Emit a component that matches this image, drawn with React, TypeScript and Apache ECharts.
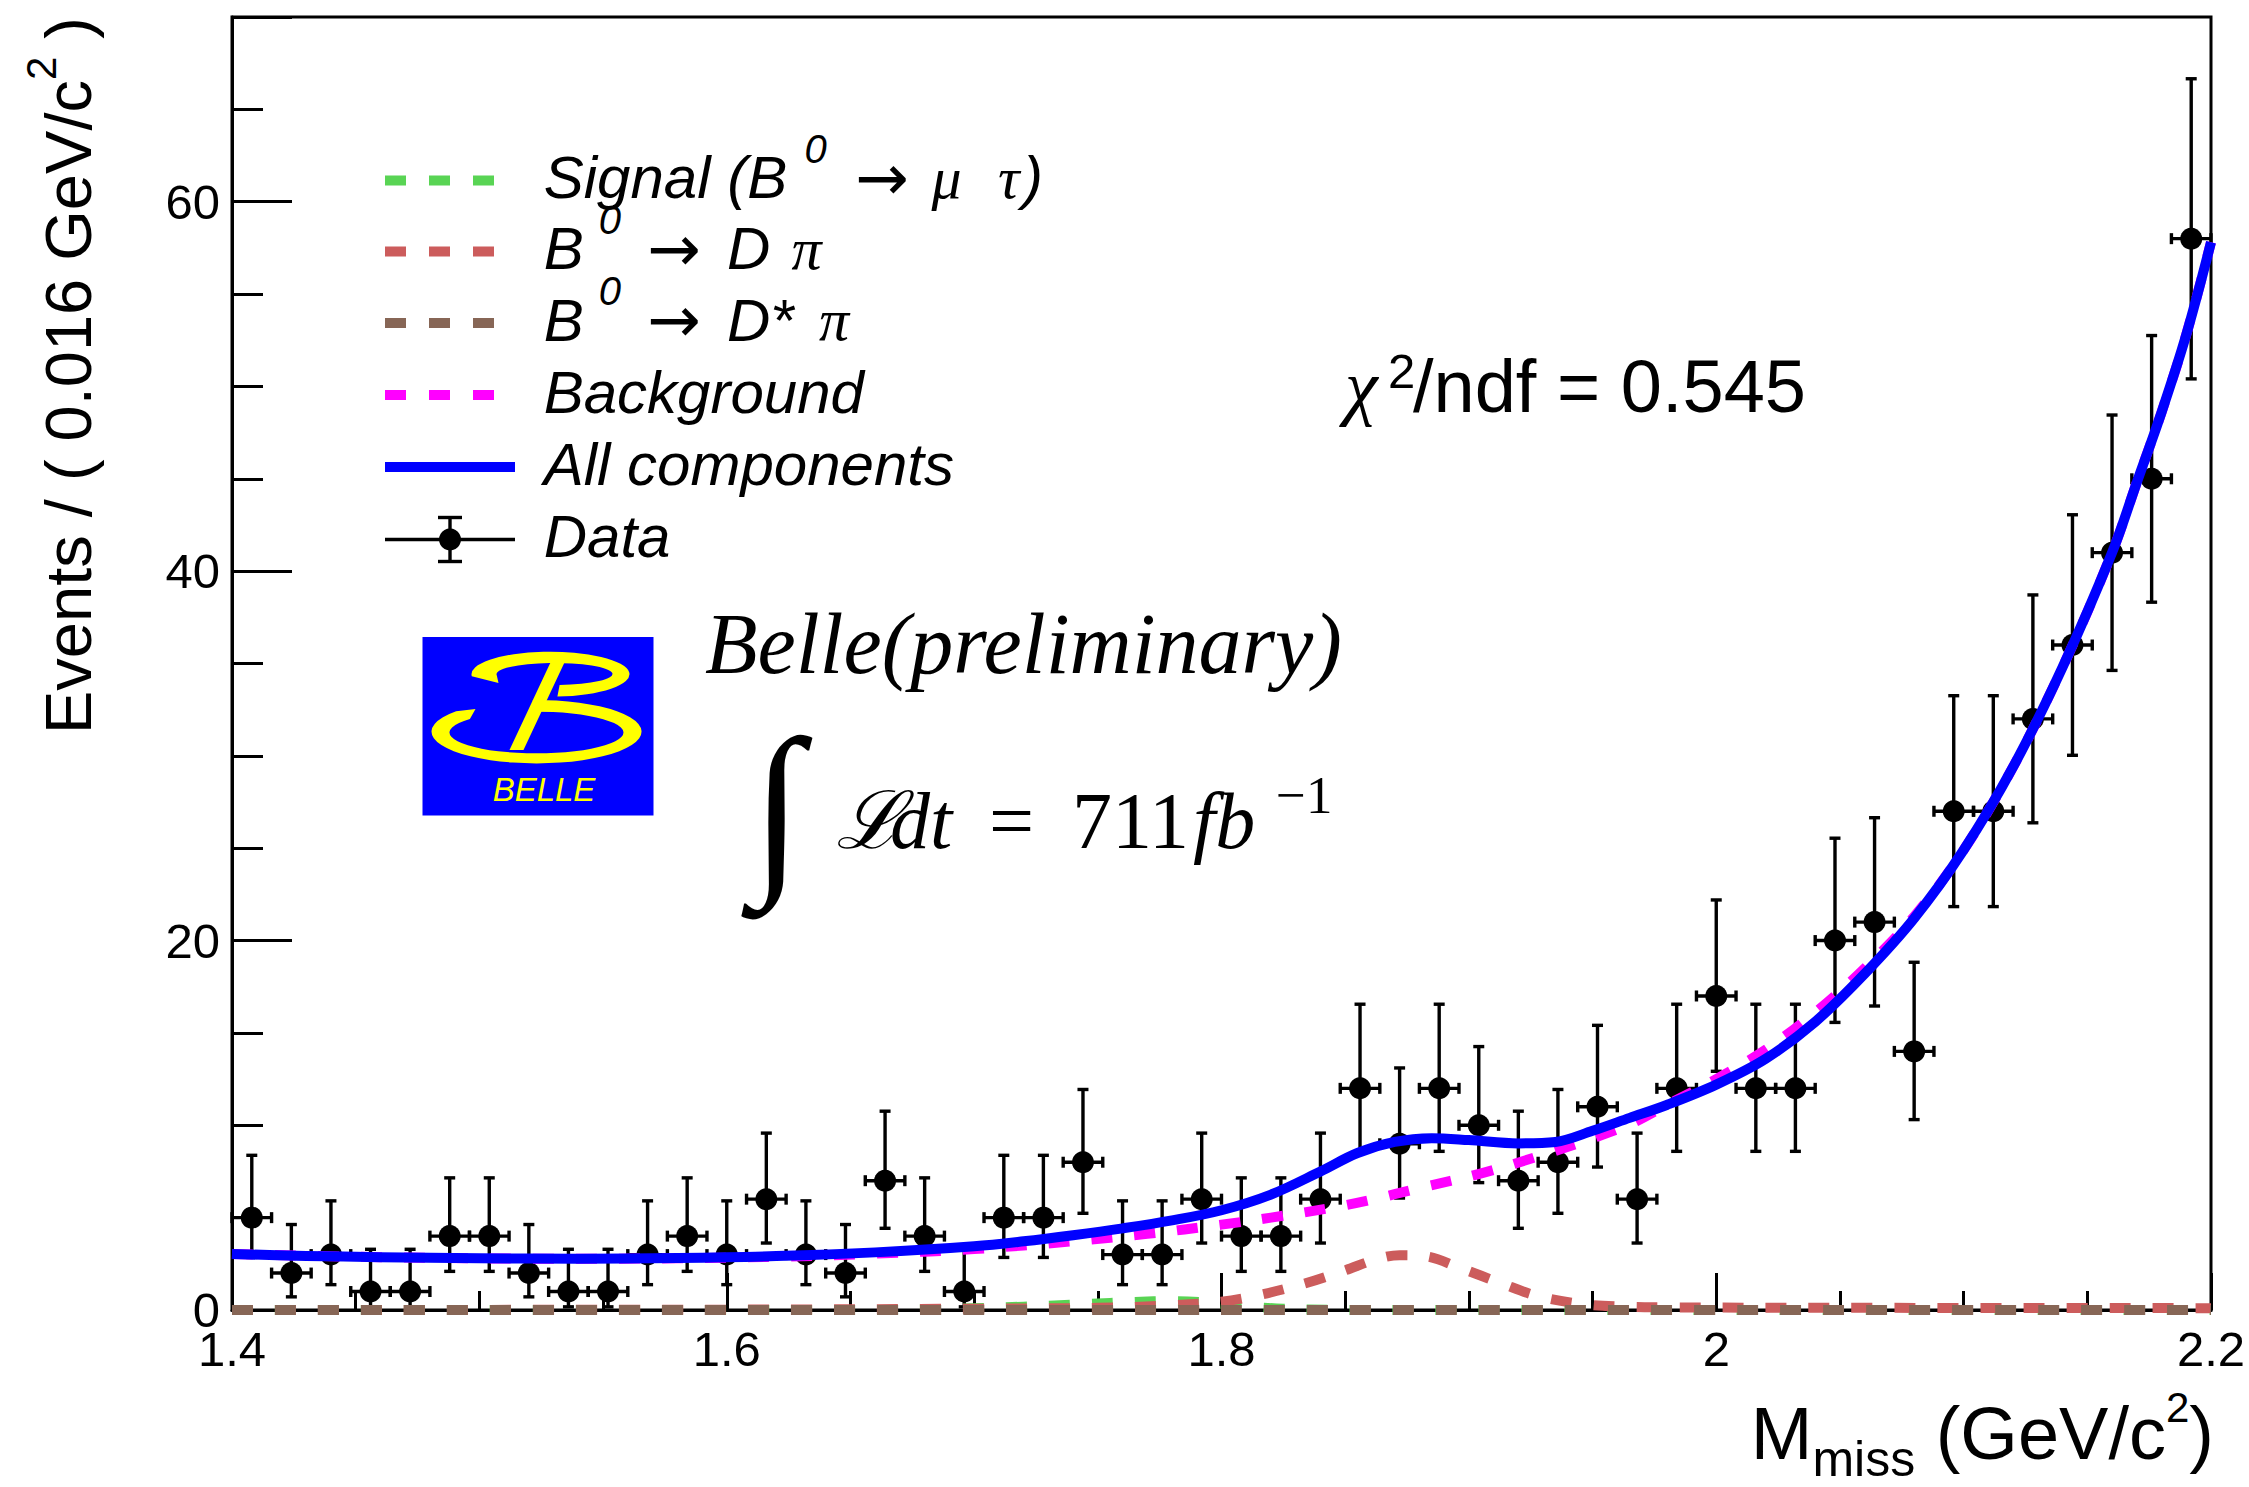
import React, { useEffect, useRef } from "react";
import * as echarts from "echarts";

// ---------------- data ----------------
const binCenters = [
  1.408, 1.424, 1.44, 1.456, 1.472, 1.488, 1.504, 1.52, 1.536, 1.552,
  1.568, 1.584, 1.6, 1.616, 1.632, 1.648, 1.664, 1.68, 1.696, 1.712,
  1.728, 1.744, 1.76, 1.776, 1.792, 1.808, 1.824, 1.84, 1.856, 1.872,
  1.888, 1.904, 1.92, 1.936, 1.952, 1.968, 1.984, 2.0, 2.016, 2.032,
  2.048, 2.064, 2.08, 2.096, 2.112, 2.128, 2.144, 2.16, 2.176, 2.192,
];
const counts = [
  5, 2, 3, 1, 1, 4, 4, 2, 1, 1,
  3, 4, 3, 6, 3, 2, 7, 4, 1, 5,
  5, 8, 3, 3, 6, 4, 4, 6, 12, 9,
  12, 10, 7, 8, 11, 6, 12, 17, 12, 12,
  20, 21, 14, 27, 27, 32, 36, 41, 45, 58,
];
const binHalfWidth = 0.008;

// All components (blue)
const totalX = [1.4, 1.43, 1.46, 1.5, 1.54, 1.58, 1.62, 1.66, 1.7, 1.72, 1.74, 1.76, 1.78, 1.8, 1.82, 1.84, 1.855, 1.87, 1.885, 1.9, 1.92, 1.935, 1.95, 1.965, 1.98, 2.0, 2.02, 2.04, 2.06, 2.08, 2.1, 2.12, 2.14, 2.16, 2.17, 2.18, 2.19, 2.2];
const totalY = [3.03, 2.93, 2.86, 2.8, 2.78, 2.82, 2.92, 3.12, 3.45, 3.72, 4.05, 4.42, 4.85, 5.4, 6.25, 7.5, 8.5, 9.1, 9.3, 9.2, 9.02, 9.1, 9.7, 10.4, 11.1, 12.2, 13.6, 15.6, 18.2, 21.2, 24.9, 29.4, 34.8, 41.0, 44.8, 48.6, 52.8, 57.8];

// Background (magenta)
const bkgX = [1.4, 1.46, 1.54, 1.62, 1.66, 1.7, 1.74, 1.77, 1.8, 1.82, 1.845, 1.86, 1.88, 1.905, 1.93, 1.95, 1.965, 1.98, 2.0, 2.02, 2.04, 2.06, 2.08, 2.1, 2.12, 2.14, 2.16, 2.17, 2.18, 2.19, 2.2];
const bkgY = [3.03, 2.86, 2.77, 2.88, 3.05, 3.3, 3.72, 4.12, 4.62, 5.0, 5.55, 5.95, 6.6, 7.4, 8.4, 9.3, 10.05, 11.1, 12.5, 14.1, 16.1, 18.5, 21.3, 24.9, 29.4, 34.8, 41.0, 44.8, 48.6, 52.8, 57.8];

// B0 -> D pi (red)
const dpiX = [1.4, 1.6, 1.7, 1.75, 1.78, 1.8, 1.815, 1.834, 1.85, 1.862, 1.872, 1.882, 1.897, 1.913, 1.928, 1.946, 1.962, 1.98, 2.05, 2.2];
const dpiY = [0.0, 0.02, 0.07, 0.12, 0.25, 0.45, 0.8, 1.45, 2.15, 2.72, 2.97, 2.92, 2.25, 1.45, 0.75, 0.32, 0.18, 0.14, 0.12, 0.1];

// B0 -> D* pi (brown)
const dstarX = [1.4, 1.8, 2.2];
const dstarY = [0.0, 0.0, 0.0];

// Signal (green)
const sigX = [1.4, 1.66, 1.69, 1.72, 1.745, 1.765, 1.78, 1.795, 1.81, 1.825, 1.845, 1.87, 2.2];
const sigY = [0.0, 0.0, 0.06, 0.18, 0.32, 0.44, 0.48, 0.4, 0.2, 0.07, 0.01, 0.0, 0.0];

const xTickLabels = ["1.4", "1.6", "1.8", "2", "2.2"];
const yTickLabels = [0, 20, 40, 60];

// ---------------- helpers ----------------
const SANS = '"Liberation Sans", Arial, Helvetica, sans-serif';
const SERIF = '"Liberation Serif", "DejaVu Serif", "Times New Roman", serif';
const ARROW = '"DejaVu Sans", sans-serif';

// Poisson (Garwood, 68.3%) interval of a count, via Wilson-Hilferty
function poissonInterval(n: number): [number, number] {
  if (n <= 0) return [0, 1.841];
  const lo = n * Math.pow(1 - 1 / (9 * n) - 1 / (3 * Math.sqrt(n)), 3);
  const m = n + 1;
  const hi = m * Math.pow(1 - 1 / (9 * m) + 1 / (3 * Math.sqrt(m)), 3);
  return [lo, hi];
}

let measureCtx: CanvasRenderingContext2D | null = null;
function measure(text: string, size: number, family: string, italic = false) {
  if (!measureCtx) measureCtx = document.createElement("canvas").getContext("2d");
  const c = measureCtx as CanvasRenderingContext2D;
  c.font = `${italic ? "italic " : ""}${size}px ${family}`;
  return c.measureText(text).width;
}

function txt(
  text: string,
  x: number,
  y: number,
  size: number,
  opt: { family?: string; italic?: boolean; align?: string; rotation?: number; fill?: string } = {}
) {
  return {
    type: "text",
    x,
    y,
    rotation: opt.rotation || 0,
    silent: true,
    z: 10,
    style: {
      text,
      fontSize: size,
      fontFamily: opt.family || SANS,
      fontStyle: opt.italic ? "italic" : "normal",
      fill: opt.fill || "#000",
      align: opt.align || "left",
      verticalAlign: "middle",
    },
  };
}

const LOGO_LOWER = "M110.3 63.0 A105 31.7 0 1 1 33.6 74.3 L53 72 L47.4 82.1 A87 20.8 0 1 0 111.0 74.7 Z";
const LOGO_UPPER = "M49.3 39.2 A79 22.5 0 1 1 134.9 59.6 L137.1 48.0 A58 11 0 1 0 74.2 38.0 L76 46 Z";

function buildGraphics() {
  const els: any[] = [];

  // ---- legend ----
  const rows = [180.5, 251.5, 323, 395, 467, 539.5];
  const lx1 = 385, lx2 = 494;
  const dashCols = ["#59d454", "#cc5c5c", "#876656", "#ff00ff"];
  dashCols.forEach((c, i) => {
    els.push({
      type: "line", silent: true, z: 10,
      shape: { x1: lx1, y1: rows[i], x2: lx2, y2: rows[i] },
      style: { stroke: c, lineWidth: 10, lineDash: [21, 23], lineCap: "butt" },
    });
  });
  els.push({
    type: "line", silent: true, z: 10,
    shape: { x1: 385, y1: rows[4], x2: 515, y2: rows[4] },
    style: { stroke: "#0000ff", lineWidth: 10 },
  });
  const dy = rows[5];
  const dataStyle = { stroke: "#000", lineWidth: 3.4 };
  els.push({ type: "line", silent: true, z: 10, shape: { x1: 385, y1: dy, x2: 515, y2: dy }, style: dataStyle });
  els.push({ type: "line", silent: true, z: 10, shape: { x1: 450, y1: dy - 22, x2: 450, y2: dy + 22 }, style: dataStyle });
  els.push({ type: "line", silent: true, z: 10, shape: { x1: 438, y1: dy - 22, x2: 462, y2: dy - 22 }, style: dataStyle });
  els.push({ type: "line", silent: true, z: 10, shape: { x1: 438, y1: dy + 22, x2: 462, y2: dy + 22 }, style: dataStyle });
  els.push({ type: "circle", silent: true, z: 10, shape: { cx: 450, cy: dy, r: 11 }, style: { fill: "#000" } });

  const LF = 60;
  const ty = (r: number) => r - 3;
  const supY = (r: number) => r - 32;
  const AF = 64;
  // row 1
  els.push(txt("Signal (B", 543.7, ty(rows[0]), LF, { italic: true }));
  els.push(txt("0", 804.6, supY(rows[0]), 40, { italic: true }));
  els.push(txt("\u2192", 855, ty(rows[0]), AF, { family: ARROW }));
  els.push(txt("\u03bc", 931.6, ty(rows[0]), LF, { italic: true, family: SERIF }));
  els.push(txt("\u03c4", 998, ty(rows[0]), LF, { italic: true, family: SERIF }));
  els.push(txt(")", 1023, ty(rows[0]), LF, { italic: true }));
  // row 2
  els.push(txt("B", 543.7, ty(rows[1]), LF, { italic: true }));
  els.push(txt("0", 598.7, supY(rows[1]), 40, { italic: true }));
  els.push(txt("\u2192", 647, ty(rows[1]), AF, { family: ARROW }));
  els.push(txt("D", 727, ty(rows[1]), LF, { italic: true }));
  els.push(txt("\u03c0", 791.6, ty(rows[1]), LF, { italic: true, family: SERIF }));
  // row 3
  els.push(txt("B", 543.7, ty(rows[2]), LF, { italic: true }));
  els.push(txt("0", 598.7, supY(rows[2]), 40, { italic: true }));
  els.push(txt("\u2192", 647, ty(rows[2]), AF, { family: ARROW }));
  els.push(txt("D*", 727, ty(rows[2]), LF, { italic: true }));
  els.push(txt("\u03c0", 819, ty(rows[2]), LF, { italic: true, family: SERIF }));
  // rows 4-6
  els.push(txt("Background", 543.7, ty(rows[3]), LF, { italic: true }));
  els.push(txt("All components", 543.7, ty(rows[4]), LF, { italic: true }));
  els.push(txt("Data", 543.7, ty(rows[5]), LF, { italic: true }));

  // ---- chi2 ----
  els.push(txt("\u03c7", 1345, 386, 74, { italic: true, family: SERIF }));
  els.push(txt("2", 1388, 371, 49));
  els.push(txt("/ndf = 0.545", 1413, 386, 74));

  // ---- Belle logo ----
  const LX = 422.5, LY = 637;
  els.push({ type: "rect", silent: true, z: 10, shape: { x: LX, y: LY, width: 231, height: 178.5 }, style: { fill: "#0000ff" } });
  els.push({ type: "belleLower", silent: true, z: 11, x: LX, y: LY, style: { fill: "#ffff00" } });
  els.push({ type: "belleUpper", silent: true, z: 11, x: LX, y: LY, style: { fill: "#ffff00" } });
  els.push({
    type: "polygon", silent: true, z: 11,
    shape: { points: [[LX + 131, LY + 19], [LX + 145, LY + 19], [LX + 101, LY + 113], [LX + 87, LY + 113]] },
    style: { fill: "#ffff00" },
  });
  els.push(txt("BELLE", 544, 789, 33, { italic: true, align: "center", fill: "#ffff00" }));

  // ---- Belle (preliminary) and luminosity ----
  els.push(txt("Belle(preliminary)", 705, 644, 86, { italic: true, family: SERIF }));
  els.push(txt("\u222b", 777, 805, 188, { family: SERIF, align: "center" }));
  els.push(txt("\u2112", 836, 821, 80, { italic: true, family: SERIF }));
  els.push(txt("dt", 890, 821, 80, { italic: true, family: SERIF }));
  els.push(txt("=", 989, 821, 80, { family: SERIF }));
  els.push(txt("711", 1072, 821, 80, { family: SERIF }));
  els.push(txt("fb", 1193, 821, 80, { italic: true, family: SERIF }));
  els.push(txt("\u22121", 1276, 795, 53, { family: SERIF }));

  // ---- x axis title (right aligned at 2214) ----
  const xt = [
    { s: "M", size: 74, y: 1433.4 },
    { s: "miss", size: 50, y: 1459 },
    { s: " (GeV/c", size: 74, y: 1433.4 },
    { s: "2", size: 42, y: 1407.6 },
    { s: ")", size: 74, y: 1433.4 },
  ];
  const widths = xt.map((p) => measure(p.s, p.size, SANS));
  let cx = 2214 - widths.reduce((a, b) => a + b, 0);
  xt.forEach((p, i) => {
    els.push(txt(p.s, cx, p.y, p.size));
    cx += widths[i];
  });

  // ---- y axis title (rotated, from bottom at 734 upward) ----
  const yt = [
    { s: "Events / ( 0.016 GeV/c", size: 65, x: 68 },
    { s: "2", size: 42, x: 41 },
    { s: " )", size: 65, x: 68 },
  ];
  let cy = 734;
  yt.forEach((p) => {
    els.push(txt(p.s, p.x, cy, p.size, { rotation: Math.PI / 2 }));
    cy -= measure(p.s, p.size, SANS);
  });

  return els;
}

export default function App() {
  const ref = useRef<HTMLDivElement>(null);

  useEffect(() => {
    if (!ref.current) return;
    echarts.graphic.registerShape("belleLower", echarts.graphic.extendPath(LOGO_LOWER, {}));
    echarts.graphic.registerShape("belleUpper", echarts.graphic.extendPath(LOGO_UPPER, {}));

    const chart = echarts.init(ref.current, undefined, { renderer: "svg", width: 2249, height: 1487 });

    const errData = binCenters.map((x, i) => {
      const [lo, hi] = poissonInterval(counts[i]);
      return [x, counts[i], lo, hi];
    });

    const curve = (name: string, xs: number[], ys: number[], color: string, dashed: boolean) => ({
      type: "line",
      name,
      data: xs.map((x, i) => [x, ys[i]]),
      smooth: 0.35,
      symbol: "none",
      showSymbol: false,
      silent: true,
      z: 3,
      lineStyle: { color, width: 10, type: dashed ? [21, 22] : "solid", cap: "butt", join: "round", opacity: 1 },
      itemStyle: { color },
    });

    const axisLineStyle = { color: "#000", width: 3 };

    const option: any = {
      animation: false,
      backgroundColor: "#fff",
      textStyle: { fontFamily: SANS },
      grid: {
        left: 232, top: 17, width: 1979, height: 1293,
        show: true, borderColor: "#000", borderWidth: 3, backgroundColor: "transparent",
      },
      xAxis: {
        type: "value", min: 1.4, max: 2.2, interval: 0.2,
        axisLine: { show: true, onZero: false, lineStyle: axisLineStyle },
        axisTick: { show: true, inside: true, length: 37, lineStyle: axisLineStyle },
        minorTick: { show: true, splitNumber: 4, length: 19, lineStyle: axisLineStyle },
        splitLine: { show: false },
        axisLabel: {
          fontSize: 49, color: "#000", fontFamily: SANS, margin: 14,
          formatter: (v: number) => {
            const s = String(Math.round(v * 10) / 10);
            return xTickLabels.indexOf(s) >= 0 ? s : "";
          },
        },
      },
      yAxis: [
        {
          type: "value", min: 0, max: 70, interval: 20, position: "left",
          axisLine: { show: true, lineStyle: axisLineStyle },
          axisTick: { show: true, inside: true, length: 60, lineStyle: axisLineStyle },
          minorTick: { show: false },
          splitLine: { show: false },
          axisLabel: {
            fontSize: 49, color: "#000", fontFamily: SANS, margin: 12,
            formatter: (v: number) => (yTickLabels.indexOf(Math.round(v)) >= 0 ? String(Math.round(v)) : ""),
          },
        },
        {
          type: "value", min: 0, max: 70, interval: 5, position: "left", offset: 0,
          axisLine: { show: false },
          axisTick: { show: true, inside: true, length: 31, lineStyle: axisLineStyle },
          minorTick: { show: false },
          splitLine: { show: false },
          axisLabel: { show: false },
        },
      ],
      series: [
        {
          type: "custom",
          name: "Data errors",
          data: errData,
          encode: { x: 0, y: [1, 2, 3] },
          silent: true,
          z: 2,
          renderItem: (_params: any, api: any) => {
            const x = api.value(0), y = api.value(1), lo = api.value(2), hi = api.value(3);
            const pT = api.coord([x, hi]);
            const pB = api.coord([x, lo]);
            const pL = api.coord([x - binHalfWidth, y]);
            const pR = api.coord([x + binHalfWidth, y]);
            const st = { stroke: "#000", lineWidth: 3.4 };
            const c = 5.5;
            return {
              type: "group",
              children: [
                { type: "line", shape: { x1: pT[0], y1: pT[1], x2: pB[0], y2: pB[1] }, style: st },
                { type: "line", shape: { x1: pT[0] - c, y1: pT[1], x2: pT[0] + c, y2: pT[1] }, style: st },
                { type: "line", shape: { x1: pB[0] - c, y1: pB[1], x2: pB[0] + c, y2: pB[1] }, style: st },
                { type: "line", shape: { x1: pL[0], y1: pL[1], x2: pR[0], y2: pR[1] }, style: st },
                { type: "line", shape: { x1: pL[0], y1: pL[1] - c, x2: pL[0], y2: pL[1] + c }, style: st },
                { type: "line", shape: { x1: pR[0], y1: pR[1] - c, x2: pR[0], y2: pR[1] + c }, style: st },
              ],
            };
          },
        },
        {
          type: "scatter",
          name: "Data",
          data: binCenters.map((x, i) => [x, counts[i]]),
          symbol: "circle",
          symbolSize: 22,
          silent: true,
          z: 2,
          itemStyle: { color: "#000", opacity: 1 },
        },
        curve("Signal", sigX, sigY, "#59d454", true),
        curve("B0 -> D pi", dpiX, dpiY, "#cc5c5c", true),
        curve("B0 -> D* pi", dstarX, dstarY, "#876656", true),
        curve("Background", bkgX, bkgY, "#ff00ff", true),
        curve("All components", totalX, totalY, "#0000ff", false),
      ],
      graphic: { elements: buildGraphics() },
    };

    chart.setOption(option);
    return () => {
      chart.dispose();
    };
  }, []);

  return (
    <div
      ref={ref}
      style={{ position: "absolute", left: 0, top: 0, width: 2249, height: 1487, background: "#fff" }}
    />
  );
}
